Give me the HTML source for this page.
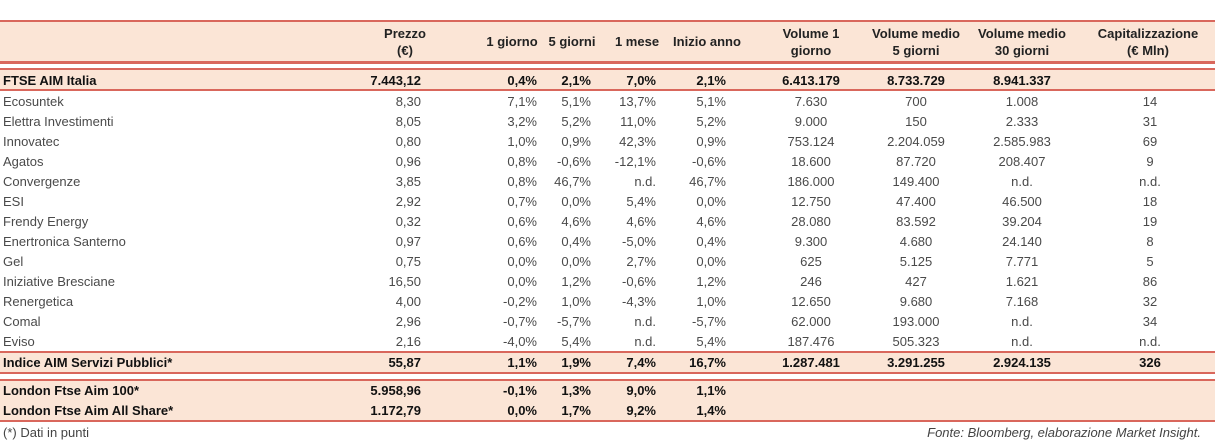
<!DOCTYPE html>
<html><head><meta charset="utf-8">
<style>
body{margin:0;width:1215px;height:443px;background:#fff;position:relative;overflow:hidden;font-family:"Liberation Sans",sans-serif;font-size:13px;color:#4a4a4a}
.ln{position:absolute;left:0;width:1215px;background:#d9675c}
.bg{position:absolute;left:0;width:1215px;background:#fbe5d6}
.c{position:absolute;white-space:nowrap;line-height:20px}
.h{position:absolute;white-space:nowrap;text-align:center;font-weight:bold;color:#222;line-height:17px;transform:translateX(-50%)}
.b{font-weight:bold;color:#111}
</style></head><body>
<div class="bg" style="top:21px;height:42px"></div>
<div class="ln" style="top:20px;height:2px"></div>
<div class="ln" style="top:61px;height:3px"></div>
<div class="bg" style="top:70px;height:20px"></div>
<div class="ln" style="top:68px;height:2px"></div>
<div class="ln" style="top:89px;height:2px"></div>
<div class="bg" style="top:352px;height:20px"></div>
<div class="ln" style="top:351px;height:2px"></div>
<div class="ln" style="top:372px;height:2px"></div>
<div class="bg" style="top:380px;height:40px"></div>
<div class="ln" style="top:379px;height:2px"></div>
<div class="ln" style="top:420px;height:2px"></div>
<div id="tbl"></div>
<div class="c" style="left:3px;top:423px;color:#444">(*) Dati in punti</div>
<div class="c" style="right:14px;top:423px;font-style:italic;color:#444">Fonte: Bloomberg, elaborazione Market Insight.</div>
<script>
const headers=[["Prezzo","(€)"],["1 giorno"],["5 giorni"],["1 mese"],["Inizio anno"],["Volume 1","giorno"],["Volume medio","5 giorni"],["Volume medio","30 giorni"],["Capitalizzazione","(€ Mln)"]];
const headerCenters=[405,512,572,637,707,811,916,1022,1148];
const colRight=[421,537,591,656,726];
const colCenter=[811,916,1022,1150];
const rowNames=["FTSE AIM Italia","Ecosuntek","Elettra Investimenti","Innovatec","Agatos","Convergenze","ESI","Frendy Energy","Enertronica Santerno","Gel","Iniziative Bresciane","Renergetica","Comal","Eviso","Indice AIM Servizi Pubblici*","London Ftse Aim 100*","London Ftse Aim All Share*"];
const rowValues=[
["7.443,12","0,4%","2,1%","7,0%","2,1%","6.413.179","8.733.729","8.941.337",""],
["8,30","7,1%","5,1%","13,7%","5,1%","7.630","700","1.008","14"],
["8,05","3,2%","5,2%","11,0%","5,2%","9.000","150","2.333","31"],
["0,80","1,0%","0,9%","42,3%","0,9%","753.124","2.204.059","2.585.983","69"],
["0,96","0,8%","-0,6%","-12,1%","-0,6%","18.600","87.720","208.407","9"],
["3,85","0,8%","46,7%","n.d.","46,7%","186.000","149.400","n.d.","n.d."],
["2,92","0,7%","0,0%","5,4%","0,0%","12.750","47.400","46.500","18"],
["0,32","0,6%","4,6%","4,6%","4,6%","28.080","83.592","39.204","19"],
["0,97","0,6%","0,4%","-5,0%","0,4%","9.300","4.680","24.140","8"],
["0,75","0,0%","0,0%","2,7%","0,0%","625","5.125","7.771","5"],
["16,50","0,0%","1,2%","-0,6%","1,2%","246","427","1.621","86"],
["4,00","-0,2%","1,0%","-4,3%","1,0%","12.650","9.680","7.168","32"],
["2,96","-0,7%","-5,7%","n.d.","-5,7%","62.000","193.000","n.d.","34"],
["2,16","-4,0%","5,4%","n.d.","5,4%","187.476","505.323","n.d.","n.d."],
["55,87","1,1%","1,9%","7,4%","16,7%","1.287.481","3.291.255","2.924.135","326"],
["5.958,96","-0,1%","1,3%","9,0%","1,1%","","","",""],
["1.172,79","0,0%","1,7%","9,2%","1,4%","","","",""]];
const rowTops=[70,91,111,131,151,171,191,211,231,251,271,291,311,331,352,380,400];
const boldRows=[0,14,15,16];
const T=document.getElementById('tbl');
headers.forEach((h,i)=>{
  const d=document.createElement('div');
  
  
  d.className='h';
  d.style.left=headerCenters[i]+'px';
  d.style.top=(h.length==2?25:33)+'px';
  d.innerHTML=h.join('<br>');
  T.appendChild(d);
});
rowNames.forEach((n,r)=>{
  const bold=boldRows.includes(r);
  const l=document.createElement('div');
  
  
  l.className='c'+(bold?' b':'');
  l.style.left='3px';l.style.top=(rowTops[r]+1)+'px';
  l.textContent=n;T.appendChild(l);
  rowValues[r].forEach((v,i)=>{
    if(!v)return;
    const d=document.createElement('div');
    
    
    d.className='c'+(bold?' b':'');
    d.style.top=(rowTops[r]+1)+'px';
    if(i<5){d.style.right=(1215-colRight[i])+'px';}
    else{d.style.left=colCenter[i-5]+'px';d.style.transform='translateX(-50%)';}
    d.textContent=v;T.appendChild(d);
  });
});
</script>
</body></html>
